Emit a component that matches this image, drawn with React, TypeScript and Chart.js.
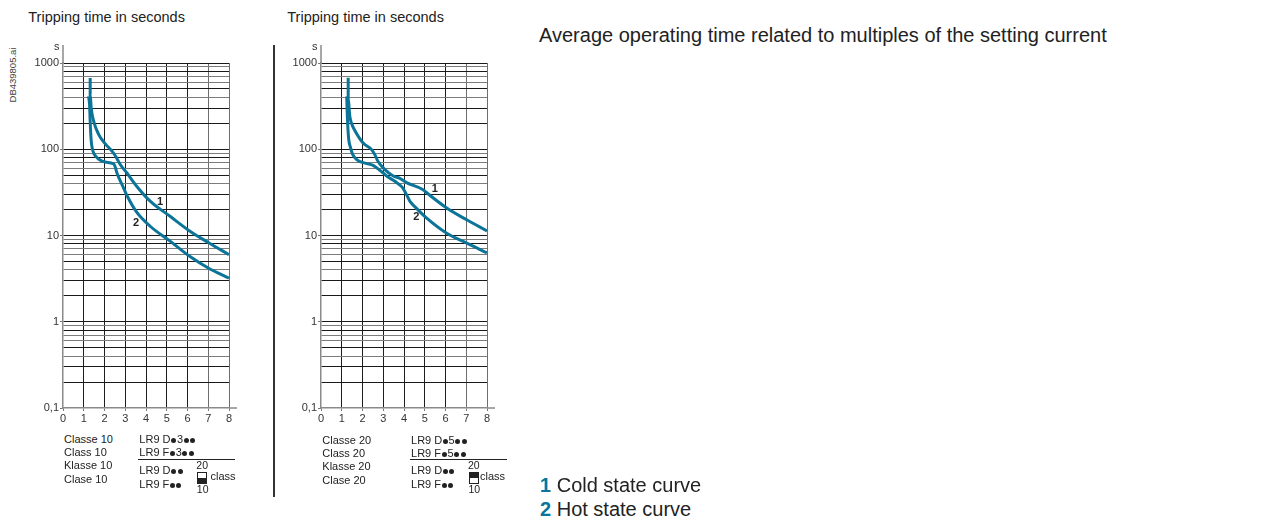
import React, { useEffect, useRef } from 'react';
import { Chart, registerables } from 'chart.js';

Chart.register(...registerables);

const FONT = 'Arial, "Liberation Sans", Helvetica, sans-serif';
const BLUE = '#0b7498';
const INK = '#222222';

// x: multiples of the setting current, y: tripping time in seconds (log grid)
const X_TICKS = [0, 1, 2, 3, 4, 5, 6, 7, 8];
const Y_DECADES = [0.1, 1, 10, 100];
const Y_STEPS = [1, 2, 3, 4, 5, 6, 7, 8, 9];
const Y_TOP = 1000;
const Y_LABELS: Record<string, string> = { '0.1': '0,1', '1': '1', '10': '10', '100': '100', '1000': '1000' };

// Class 10 relays (LR9 D●3●● / LR9 F●3●●)
const C10_COLD_X = [1.31, 1.31, 1.36, 1.47, 1.71, 2.03, 2.36, 2.55, 2.75, 3.08, 3.56, 4.2, 5.16, 6.12, 7, 8];
const C10_COLD_Y = [670, 430, 300, 215, 150, 116, 95, 82, 67, 53, 37, 25, 16.7, 11.2, 8.3, 6.0];
const C10_HOT_X = [1.23, 1.28, 1.31, 1.36, 1.42, 1.5, 1.71, 2.03, 2.43, 2.5, 2.6, 2.91, 3.1, 3.56, 4.2, 5.16, 6.12, 7, 8];
const C10_HOT_Y = [410, 330, 210, 125, 100, 88, 77, 71, 68, 64, 53, 36, 28.5, 18.5, 12.8, 8.6, 5.7, 4.2, 3.2];
const C10_MARK_X = [4.68, 3.52];
const C10_MARK_Y = [24.7, 13.8];

// Class 20 relays (LR9 D●5●● / LR9 F●5●●)
const C20_COLD_X = [1.31, 1.31, 1.39, 1.47, 1.63, 2.03, 2.44, 2.6, 2.75, 3.08, 3.48, 3.8, 4.12, 4.92, 5.08, 6.04, 7, 8];
const C20_COLD_Y = [676, 376, 240, 200, 165, 118, 99, 86, 72, 58, 49, 46, 41, 34, 31.5, 21, 15.3, 11.3];
const C20_HOT_X = [1.24, 1.27, 1.33, 1.42, 1.52, 1.72, 2.12, 2.36, 2.51, 2.84, 3.16, 3.56, 3.88, 3.96, 4.12, 4.28, 4.52, 5.08, 6.04, 7, 8];
const C20_HOT_Y = [410, 240, 135, 105, 88, 76, 69, 67, 65, 57, 49, 42.5, 37, 35, 29.8, 25, 21.6, 16, 10.7, 8.2, 6.3];
const C20_MARK_X = [5.48, 4.59];
const C20_MARK_Y = [34.7, 16.5];

const CURVE_NAMES = ['1', '2'];

// table texts under each chart
const CLASS10_NAMES = ['Classe 10', 'Class 10', 'Klasse 10', 'Clase 10'];
const CLASS20_NAMES = ['Classe 20', 'Class 20', 'Klasse 20', 'Clase 20'];
const CLASS10_REFS = ['LR9 D●3●●', 'LR9 F●3●●'];
const CLASS20_REFS = ['LR9 D●5●●', 'LR9 F●5●●'];
const SWITCH_REFS = ['LR9 D●●', 'LR9 F●●'];

const Y_GRID = [...Y_DECADES.flatMap((d) => Y_STEPS.map((s) => +(d * s).toPrecision(3))), Y_TOP];

const stepOf = (v: number) => Math.round(v / Math.pow(10, Math.floor(Math.log10(v) + 1e-9)));

const decor = {
  id: 'decor',
  afterDraw(chart: any, _args: any, opts: any) {
    const { ctx, chartArea: a, scales } = chart;
    const xs = scales.x;
    const ys = scales.y;
    ctx.save();
    // axis lines run a little past the grid
    ctx.strokeStyle = '#8a8a8a';
    ctx.lineWidth = 1.5;
    ctx.beginPath();
    ctx.moveTo(a.left, a.top);
    ctx.lineTo(a.left, a.top - 18);
    ctx.moveTo(a.right, a.bottom);
    ctx.lineTo(a.right + 8, a.bottom);
    ctx.stroke();
    // unit
    ctx.fillStyle = '#333';
    ctx.font = `11px ${FONT}`;
    ctx.textAlign = 'right';
    ctx.textBaseline = 'alphabetic';
    ctx.fillText('s', a.left - 3.5, a.top - 13.5);
    // curve numbers
    ctx.font = `bold 11px ${FONT}`;
    ctx.fillStyle = INK;
    ctx.textAlign = 'center';
    ctx.textBaseline = 'middle';
    opts.markX.forEach((mx: number, i: number) => {
      ctx.fillText(opts.names[i], xs.getPixelForValue(mx), ys.getPixelForValue(opts.markY[i]));
    });
    ctx.restore();
  },
};

type ChartProps = {
  left: number;
  coldX: number[];
  coldY: number[];
  hotX: number[];
  hotY: number[];
  markX: number[];
  markY: number[];
};

const CW = 262;
const CH = 432;

function TripChart({ left, coldX, coldY, hotX, hotY, markX, markY }: ChartProps) {
  const ref = useRef<HTMLCanvasElement>(null);
  useEffect(() => {
    const canvas = ref.current;
    if (!canvas) return;
    const line = (xv: number[], yv: number[]) => ({
      data: xv.map((x, i) => ({ x, y: yv[i] })),
      borderColor: BLUE,
      borderWidth: 3,
      pointRadius: 0,
      cubicInterpolationMode: 'monotone',
      fill: false,
    });
    const chart = new Chart(canvas, {
      type: 'line',
      data: { datasets: [line(coldX, coldY) as any, line(hotX, hotY) as any] },
      options: {
        responsive: false,
        animation: false,
        devicePixelRatio: 1,
        layout: { padding: { left: 0, top: 63, right: 33, bottom: 0 } },
        plugins: {
          legend: { display: false },
          tooltip: { enabled: false },
          decor: { markX, markY, names: CURVE_NAMES },
        } as any,
        scales: {
          x: {
            type: 'linear',
            min: 0,
            max: 8,
            afterBuildTicks: (s: any) => {
              s.ticks = X_TICKS.map((v) => ({ value: v }));
            },
            afterFit: (s: any) => {
              s.height = 24;
            },
            ticks: {
              autoSkip: false,
              maxRotation: 0,
              padding: 1,
              color: '#333',
              font: { family: FONT, size: 11 },
            },
            grid: {
              color: (c: any) => {
                const v = c.tick?.value;
                if (v === 0) return 'rgba(0,0,0,0)';
                return v >= 7 ? '#6e6e6e' : '#1e1e1e';
              },
              lineWidth: 1,
              tickLength: 3,
              tickColor: '#777',
            },
            border: { color: '#8a8a8a', width: 1.5 },
          },
          y: {
            type: 'logarithmic',
            min: 0.1,
            max: 1000,
            afterBuildTicks: (s: any) => {
              s.ticks = Y_GRID.map((v) => ({ value: v }));
            },
            afterFit: (s: any) => {
              s.width = 63;
            },
            ticks: {
              autoSkip: false,
              padding: 1,
              color: '#333',
              font: { family: FONT, size: 11 },
              callback: (v: any) => Y_LABELS[String(v)] ?? '',
            },
            grid: {
              color: (c: any) => {
                const v = c.tick?.value;
                if (v === 0.1) return 'rgba(0,0,0,0)';
                const st = stepOf(v);
                return [1, 2, 3, 5, 8].includes(st) ? '#1a1a1a' : '#7c7c7c';
              },
              lineWidth: 1,
              tickLength: 3,
              tickColor: (c: any) => (Y_LABELS[String(c.tick?.value)] ? '#777' : 'rgba(0,0,0,0)'),
            },
            border: { color: '#8a8a8a', width: 1.5 },
          },
        },
      } as any,
      plugins: [decor],
    });
    return () => chart.destroy();
  }, []);
  return (
    <canvas
      ref={ref}
      width={CW}
      height={CH}
      style={{ position: 'absolute', left, top: 0, width: CW, height: CH }}
    />
  );
}

function Txt({ x, cy, size, children, bold, color, style }: any) {
  return (
    <div
      style={{
        position: 'absolute',
        left: x,
        top: cy - size / 2,
        fontSize: size,
        lineHeight: `${size}px`,
        fontFamily: FONT,
        fontWeight: bold ? 700 : 400,
        color: color || INK,
        whiteSpace: 'nowrap',
        ...style,
      }}
    >
      {children}
    </div>
  );
}

const dot: React.CSSProperties = {
  display: 'inline-block',
  width: 5,
  height: 5,
  borderRadius: '50%',
  background: INK,
  margin: '0 0.7px',
};

function Code({ text }: { text: string }) {
  return <>{Array.from(text).map((c, i) => (c === '●' ? <span key={i} style={dot} /> : c))}</>;
}

type PanelProps = {
  ox: number;
  refX: number;
  classX: number;
  dy: number;
  names: string[];
  refs: string[];
  topDark: boolean;
};

function Panel({ ox, refX, classX, dy, names, refs, topDark }: PanelProps) {
  const rows = [439.5, 452.3, 465.3, 479.5];
  return (
    <>
      {names.map((n, i) => (
        <Txt key={n} x={ox} cy={rows[i] + dy} size={11}>
          {n}
        </Txt>
      ))}
      {refs.map((r, i) => (
        <Txt key={r} x={refX} cy={rows[i] + dy} size={11}>
          <Code text={r} />
        </Txt>
      ))}
      <div style={{ position: 'absolute', left: refX - 1, top: 459, width: 97, height: 1, background: INK }} />
      {SWITCH_REFS.map((r, i) => (
        <Txt key={r} x={refX} cy={[470.7, 484.7][i]} size={11}>
          <Code text={r} />
        </Txt>
      ))}
      <Txt x={refX + 57} cy={465.3} size={10.5}>
        20
      </Txt>
      <Txt x={refX + 57.5} cy={489.3} size={10.5}>
        10
      </Txt>
      <div
        style={{
          position: 'absolute',
          left: refX + 58,
          top: 472,
          width: 8,
          height: 10,
          border: `1px solid ${INK}`,
          background: '#fff',
        }}
      >
        <div style={{ position: 'absolute', left: 0, width: 8, height: 5, top: topDark ? 0 : 5, background: INK }} />
      </div>
      <Txt x={classX} cy={476.7} size={11}>
        class
      </Txt>
    </>
  );
}

export default function App() {
  return (
    <div
      style={{
        position: 'absolute',
        left: 0,
        top: 0,
        width: 1277,
        height: 518,
        background: '#fff',
        overflow: 'hidden',
        fontFamily: FONT,
      }}
    >
      <Txt x={28.3} cy={17.7} size={14.5}>
        Tripping time in seconds
      </Txt>
      <Txt x={287.3} cy={17.7} size={14.5}>
        Tripping time in seconds
      </Txt>
      <div
        style={{
          position: 'absolute',
          left: 12.7 - 30,
          top: 75 - 5,
          width: 60,
          height: 10,
          fontSize: 9.5,
          lineHeight: '10px',
          fontFamily: FONT,
          color: '#444',
          textAlign: 'center',
          transform: 'rotate(-90deg)',
          whiteSpace: 'nowrap',
        }}
      >
        DB439805.ai
      </div>

      <TripChart
        left={0}
        coldX={C10_COLD_X}
        coldY={C10_COLD_Y}
        hotX={C10_HOT_X}
        hotY={C10_HOT_Y}
        markX={C10_MARK_X}
        markY={C10_MARK_Y}
      />
      <TripChart
        left={258}
        coldX={C20_COLD_X}
        coldY={C20_COLD_Y}
        hotX={C20_HOT_X}
        hotY={C20_HOT_Y}
        markX={C20_MARK_X}
        markY={C20_MARK_Y}
      />

      <div style={{ position: 'absolute', left: 272.5, top: 45, width: 2.5, height: 452, background: '#333' }} />

      <Panel ox={64} refX={139.3} classX={210.5} dy={0} names={CLASS10_NAMES} refs={CLASS10_REFS} topDark={false} />
      <Panel ox={322.3} refX={411} classX={480} dy={1} names={CLASS20_NAMES} refs={CLASS20_REFS} topDark={true} />

      <Txt x={539} cy={34.5} size={20}>
        Average operating time related to multiples of the setting current
      </Txt>
      <Txt x={540} cy={485} size={20}>
        <span style={{ color: BLUE, fontWeight: 700 }}>1</span> Cold state curve
      </Txt>
      <Txt x={540} cy={508.5} size={20}>
        <span style={{ color: BLUE, fontWeight: 700 }}>2</span> Hot state curve
      </Txt>
    </div>
  );
}
